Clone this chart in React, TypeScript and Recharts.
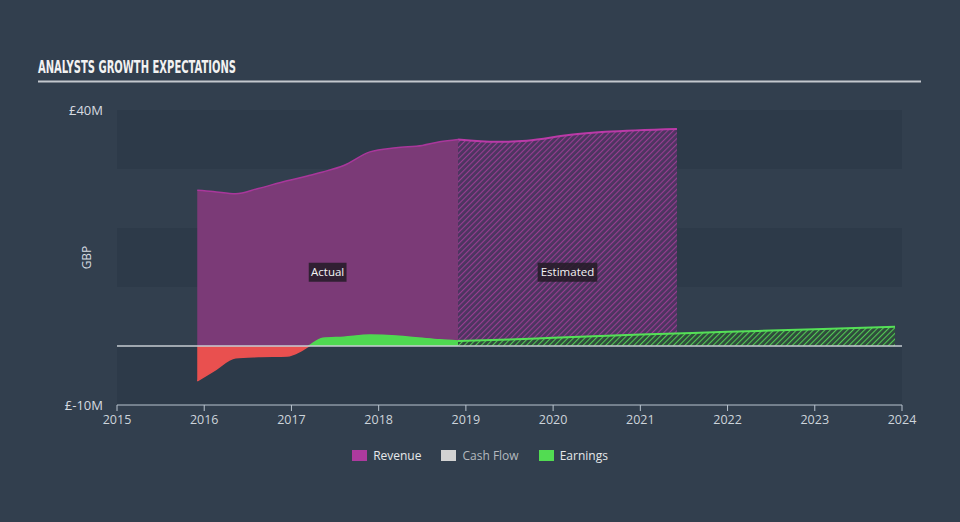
import React from "react";
import {
  ComposedChart,
  Area,
  XAxis,
  YAxis,
  CartesianGrid,
  ReferenceLine,
  ReferenceDot,
  Legend,
} from "recharts";

const actualYears = [2015.92, 2016.1, 2016.36, 2016.62, 2016.95, 2017.1, 2017.2, 2017.36, 2017.6, 2017.9, 2018.2, 2018.5, 2018.7, 2018.91];
const revenueActual = [26.4, 26.2, 25.8, 26.7, 28.0, 28.5, 28.9, 29.5, 30.6, 32.9, 33.6, 34.0, 34.6, 35.0];
const earningsActual = [-5.9, -4.3, -2.0, -1.8, -1.7, -0.9, 0.0, 1.3, 1.5, 1.85, 1.7, 1.3, 1.05, 0.85];

const revenueEstYears = [2018.91, 2019.35, 2019.7, 2020.2, 2020.6, 2021.42];
const revenueEstimate = [35.0, 34.6, 34.8, 35.8, 36.3, 36.8];

const earningsEstYears = [2018.91, 2019.5, 2020, 2021, 2022, 2023, 2023.92];
const earningsEstimate = [0.85, 1.1, 1.4, 1.95, 2.4, 2.85, 3.25];

const xTicks = [2015, 2016, 2017, 2018, 2019, 2020, 2021, 2022, 2023, 2024];
const yTicks = [-10, 0, 10, 20, 30, 40];
const yLabelled = [-10, 40];

const legendNames = ["Revenue", "Cash Flow", "Earnings"];
const legendColors = ["#ad3a9e", "#d2d2d2", "#52dc52"];
const legendText = ["#e6e8ea", "#b4b9be", "#e6e8ea"];

const FONT = "'Open Sans', 'Noto Sans', sans-serif";
const Y_MIN = -10;
const Y_MAX = 40;

const rows = new Map<number, Record<string, number>>();
const put = (x: number, key: string, v: number) => {
  const r = rows.get(x) ?? { x };
  r[key] = v;
  rows.set(x, r);
};
actualYears.forEach((x, i) => {
  put(x, "revActual", revenueActual[i]);
  put(x, "earnActual", earningsActual[i]);
});
revenueEstYears.forEach((x, i) => put(x, "revEst", revenueEstimate[i]));
earningsEstYears.forEach((x, i) => put(x, "earnEst", earningsEstimate[i]));
const data = [...rows.values()].sort((a, b) => a.x - b.x);

const actualMid = (actualYears[0] + actualYears[actualYears.length - 1]) / 2;
const estMid = (revenueEstYears[0] + revenueEstYears[revenueEstYears.length - 1]) / 2;

const zeroOffset = Y_MAX / (Y_MAX - Y_MIN);

function tagShape(text: string) {
  return (props: any) => {
    const { cx, cy } = props;
    const w = text.length * 7.3 - 6;
    return (
      <g>
        <rect x={cx - w / 2} y={cy - 9.5} width={w} height={19} fill="#231b26" fillOpacity={0.85} />
        <text x={cx} y={cy + 4} textAnchor="middle" fill="#f4f4f4" fontSize={11.5} fontFamily={FONT}>
          {text}
        </text>
      </g>
    );
  };
}

function LegendBox() {
  return (
    <div
      style={{
        display: "flex",
        justifyContent: "center",
        gap: 20,
        fontFamily: FONT,
        fontSize: 12,
      }}
    >
      {legendNames.map((n, i) => (
        <div key={n} style={{ display: "flex", alignItems: "center" }}>
          <span
            style={{
              display: "inline-block",
              width: 15,
              height: 11,
              background: legendColors[i],
              marginRight: 6,
            }}
          />
          <span style={{ color: legendText[i] }}>{n}</span>
        </div>
      ))}
    </div>
  );
}

export default function App() {
  return (
    <div
      style={{
        position: "absolute",
        left: 0,
        top: 0,
        width: 960,
        height: 522,
        background: "#323f4e",
        overflow: "hidden",
      }}
    >
      <svg width={960} height={90} style={{ position: "absolute", left: 0, top: 0 }}>
        <text
          x={38}
          y={73}
          fill="#f2f2f2"
          fontSize={18}
          fontWeight={700}
          fontFamily="'Liberation Sans Narrow', 'DejaVu Sans Condensed', sans-serif"
          textLength={198}
          lengthAdjust="spacingAndGlyphs"
        >
          ANALYSTS GROWTH EXPECTATIONS
        </text>
        <line x1={38} x2={921} y1={81.5} y2={81.5} stroke="#c3c8ce" strokeWidth={2} />
      </svg>
      <div style={{ position: "absolute", left: 0, top: 0 }}>
        <ComposedChart
          width={960}
          height={522}
          data={data}
          margin={{ top: 110, right: 58, bottom: 87, left: 57 }}
        >
          <defs>
            <linearGradient id="earnFill" x1="0" y1="110" x2="0" y2="405" gradientUnits="userSpaceOnUse">
              <stop offset={zeroOffset} stopColor="#4fd851" />
              <stop offset={zeroOffset} stopColor="#e9504f" />
            </linearGradient>
            <pattern id="revHatch" width="4" height="4" patternUnits="userSpaceOnUse" patternTransform="rotate(45)">
              <rect width="4" height="4" fill="#4c3560" />
              <line x1="0" y1="0" x2="0" y2="4" stroke="#983d91" strokeWidth="2.2" />
            </pattern>
            <pattern id="earnHatch" width="4" height="4" patternUnits="userSpaceOnUse" patternTransform="rotate(45)">
              <rect width="4" height="4" fill="#2f4a3c" />
              <line x1="0" y1="0" x2="0" y2="4" stroke="#52c954" strokeWidth="2.2" />
            </pattern>
          </defs>
          <CartesianGrid
            vertical={false}
            stroke="transparent"
            horizontalFill={["#2d3a49", "transparent"]}
          />
          <XAxis
            type="number"
            dataKey="x"
            domain={[2015, 2024]}
            ticks={xTicks}
            interval={0}
            height={30}
            stroke="#b9c4cf"
            tickSize={6}
            tickMargin={4}
            tick={{ fill: "#cdd4db", fontSize: 12.5, fontFamily: FONT }}
          />
          <YAxis
            type="number"
            domain={[Y_MIN, Y_MAX]}
            ticks={yTicks}
            interval={0}
            width={60}
            axisLine={false}
            tickLine={false}
            tickSize={0}
            tickMargin={14}
            tickFormatter={(v: number) => (yLabelled.includes(v) ? `£${v}M` : "")}
            tick={{ fill: "#d6dbe0", fontSize: 13, fontFamily: FONT }}
            label={{
              value: "GBP",
              angle: -90,
              position: "center",
              fill: "#d6dbe0",
              fontSize: 12,
              fontFamily: FONT,
            }}
          />
          <Area
            type="monotone"
            dataKey="revActual"
            baseValue={0}
            connectNulls
            stroke="#a9379b"
            strokeWidth={1.5}
            fill="#7b3a77"
            fillOpacity={1}
            isAnimationActive={false}
          />
          <Area
            type="monotone"
            dataKey="revEst"
            baseValue={0}
            connectNulls
            stroke="#bb3aa8"
            strokeWidth={2}
            fill="url(#revHatch)"
            fillOpacity={1}
            isAnimationActive={false}
          />
          <Area
            type="monotone"
            dataKey="earnActual"
            baseValue={0}
            connectNulls
            stroke="url(#earnFill)"
            strokeWidth={1.5}
            fill="url(#earnFill)"
            fillOpacity={1}
            isAnimationActive={false}
          />
          <Area
            type="monotone"
            dataKey="earnEst"
            baseValue={0}
            connectNulls
            stroke="#55e057"
            strokeWidth={2}
            fill="url(#earnHatch)"
            fillOpacity={1}
            isAnimationActive={false}
          />
          <ReferenceLine y={0} stroke="#c6ccd2" strokeWidth={1.5} />
          <ReferenceDot x={actualMid} y={12.5} r={0} shape={tagShape("Actual")} />
          <ReferenceDot x={estMid} y={12.5} r={0} shape={tagShape("Estimated")} />
          <Legend
            layout="horizontal"
            verticalAlign="middle"
            align="center"
            wrapperStyle={{ top: 447, left: 0, width: 960 }}
            content={() => <LegendBox />}
          />
        </ComposedChart>
      </div>
    </div>
  );
}
